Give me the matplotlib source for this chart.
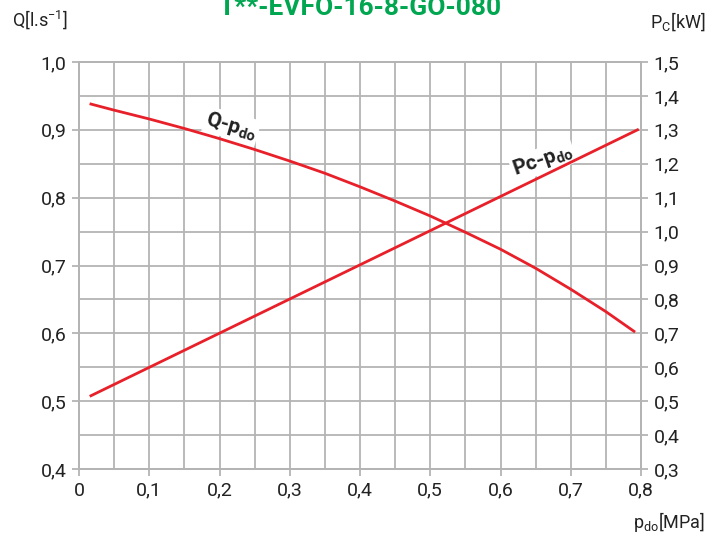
import numpy as np
import matplotlib
matplotlib.use("Agg")
import matplotlib.pyplot as plt

# ==============================
# Data
# ==============================

p_do = [0.017, 0.05, 0.1, 0.15, 0.2, 0.25, 0.3, 0.35, 0.4,
        0.45, 0.5, 0.55, 0.6, 0.65, 0.7, 0.75, 0.79]
q_flow = [0.938, 0.929, 0.916, 0.902, 0.887, 0.871, 0.854, 0.836, 0.816,
          0.795, 0.773, 0.749, 0.724, 0.696, 0.665, 0.632, 0.603]

pc_p = [0.017, 0.795]
pc_kw = [0.516, 1.30]

x_ticks = [0, 0.1, 0.2, 0.3, 0.4, 0.5, 0.6, 0.7, 0.8]
q_ticks = [0.4, 0.5, 0.6, 0.7, 0.8, 0.9, 1.0]
pc_ticks = [0.3, 0.4, 0.5, 0.6, 0.7, 0.8, 0.9, 1.0, 1.1, 1.2, 1.3, 1.4, 1.5]

title = "T**-EVFO-16-8-GO-080"

# ==============================
# Style
# ==============================

plt.rcParams["font.family"] = ["Roboto", "DejaVu Sans"]
plt.rcParams["mathtext.fontset"] = "custom"
plt.rcParams["mathtext.rm"] = "Roboto"

grid_c = "#b4b4b4"
red = "#e8202a"
txt = "#222222"


def fmt(v):
    s = "%.1f" % v
    if s == "0.0":
        return "0"
    return s.replace(".", ",")


fig = plt.figure(figsize=(7.09, 5.36), dpi=100)
ax = fig.add_axes([79 / 709, 67 / 536, 562 / 709, 407 / 536])
ax2 = ax.twinx()

ax.set_xlim(0, 0.8)
ax.set_ylim(0.4, 1.0)
ax2.set_ylim(0.3, 1.5)

ax.set_xticks(x_ticks)
ax.set_xticklabels([fmt(v) for v in x_ticks])
ax.set_xticks(np.arange(0.05, 0.8, 0.1), minor=True)
ax.set_yticks(q_ticks)
ax.set_yticklabels([fmt(v) for v in q_ticks])
ax.set_yticks(np.arange(0.45, 1.0, 0.1), minor=True)
ax2.set_yticks(pc_ticks)
ax2.set_yticklabels([fmt(v) for v in pc_ticks])

ax.grid(True, which="both", color=grid_c, linewidth=1.3)
ax.set_axisbelow(True)

for a in (ax, ax2):
    for s in a.spines.values():
        s.set_color(grid_c)
        s.set_linewidth(1.3)
    a.tick_params(which="major", length=5, width=1.3, color=grid_c,
                  labelsize=14, labelcolor=txt, pad=4)
    a.tick_params(which="minor", length=0)

ax.plot(p_do, q_flow, color=red, linewidth=2)
ax2.plot(pc_p, pc_kw, color=red, linewidth=2)

ax.text(0.217, 0.906, r"Q-p$_{\mathregular{do}}$", rotation=-16,
        fontsize=15, fontweight="bold", color=txt, ha="center", va="center",
        bbox=dict(facecolor="white", edgecolor="none", pad=1))
ax.text(0.66, 0.855, r"Pc-p$_{\mathregular{do}}$", rotation=19,
        fontsize=15, fontweight="bold", color=txt, ha="center", va="center",
        bbox=dict(facecolor="white", edgecolor="none", pad=1))

# axis labels
fig.text(12 / 709, 1 - 20 / 536, r"Q[l.s$^{\mathregular{-1}}$]", fontsize=13,
         color=txt, ha="left", va="center")
fig.text(705 / 709, 1 - 22 / 536, r"P$_{\mathregular{C}}$[kW]", fontsize=13,
         color=txt, ha="right", va="center")
fig.text(705 / 709, 1 - 522 / 536, r"p$_{\mathregular{do}}$[MPa]", fontsize=13,
         color=txt, ha="right", va="center")

fig.text(360 / 709, 1 - 15 / 536, title, fontsize=19, fontweight="bold",
         color="#00a650", ha="center", va="baseline")

fig.savefig("out.png", dpi=100, facecolor="white")
